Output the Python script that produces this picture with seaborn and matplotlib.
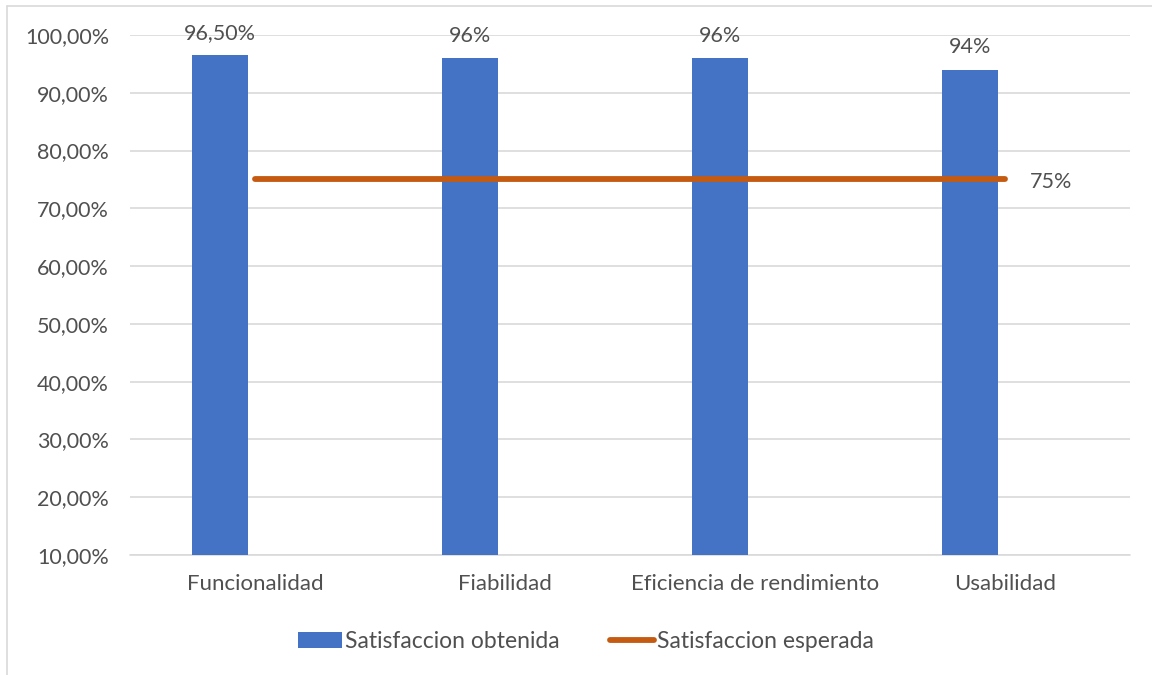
import matplotlib
matplotlib.use("Agg")
import matplotlib.pyplot as plt
from matplotlib.lines import Line2D
from matplotlib.patches import Patch
import seaborn as sns
import pandas as pd

categories = ["Funcionalidad", "Fiabilidad", "Eficiencia de rendimiento", "Usabilidad"]
obtained = [0.965, 0.96, 0.96, 0.94]
obtained_labels = ["96,50%", "96%", "96%", "94%"]
expected = [0.75, 0.75, 0.75, 0.75]
expected_label = "75%"
y_ticks = [0.10, 0.20, 0.30, 0.40, 0.50, 0.60, 0.70, 0.80, 0.90, 1.00]
series_names = ["Satisfaccion obtenida", "Satisfaccion esperada"]

BLUE = "#4472C4"
ORANGE = "#C55A11"
TEXT = "#505050"
GRID = "#D9D9D9"
FS = 15.5

sns.set_style("white")
plt.rcParams["font.family"] = ["Lato", "DejaVu Sans"]

fig = plt.figure(figsize=(11.52, 6.75), dpi=100)
ax = fig.add_axes([0.1128, 0.1778, 0.8682, 0.7704])

df = pd.DataFrame({"categoria": categories, "obtenida": obtained,
                   "pos": range(len(categories)), "esperada": expected})

sns.barplot(data=df, x="categoria", y="obtenida", color=BLUE, width=0.224,
            saturation=1, ax=ax, zorder=2)
# shift the bars left of the category centre (clustered layout)
for p in ax.patches:
    p.set_x(p.get_x() - 0.14)
    p.set_edgecolor("none")

sns.lineplot(data=df, x="pos", y="esperada", color=ORANGE, linewidth=4.2,
             ax=ax, zorder=3, solid_capstyle="round")

# value labels
for p, lab in zip(ax.patches, obtained_labels):
    ax.annotate(lab, (p.get_x() + p.get_width() / 2, p.get_height()),
                xytext=(0, 9), textcoords="offset points", ha="center",
                va="bottom", fontsize=FS, color=TEXT)
ax.annotate(expected_label, (len(categories) - 1, expected[-1]), xytext=(18, -2),
            textcoords="offset points", ha="left", va="center",
            fontsize=FS, color=TEXT)

ax.set_xlim(-0.5, len(categories) - 0.5)
ax.set_ylim(0.10, 1.0)
ax.set_yticks(y_ticks)
ax.set_yticklabels([f"{v*100:.2f}%".replace(".", ",") for v in y_ticks])
ax.yaxis.grid(True, color=GRID, linewidth=1.2, zorder=0)
ax.set_axisbelow(True)
for s in ax.spines.values():
    s.set_visible(False)
ax.set_xlabel("")
ax.set_ylabel("")
ax.tick_params(axis="y", length=0, pad=15, labelsize=FS, labelcolor=TEXT)
ax.tick_params(axis="x", length=0, pad=14, labelsize=FS + 0.5, labelcolor=TEXT)
ax.axhline(0.10, color=GRID, linewidth=1.2, zorder=1, clip_on=False)

handles = [Patch(facecolor=BLUE, edgecolor="none"),
           Line2D([0], [0], color=ORANGE, linewidth=4.2, solid_capstyle="round")]
fig.legend(handles, series_names, loc="center", bbox_to_anchor=(0.509, 0.049),
           ncol=2, frameon=False, fontsize=16.5, labelcolor=TEXT,
           handlelength=1.9, handletextpad=0.15, columnspacing=2.2)

# chart frame edges
fig.add_artist(Line2D([0.0065, 0.0065], [0, 0.991], transform=fig.transFigure,
                      color="#D9D9D9", linewidth=1.2))
fig.add_artist(Line2D([0.0065, 1.0], [0.991, 0.991], transform=fig.transFigure,
                      color="#D9D9D9", linewidth=1.2))

fig.savefig("out.png", dpi=100)
